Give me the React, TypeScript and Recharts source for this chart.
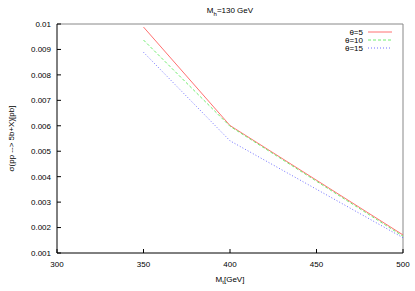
import React from "react";
import { LineChart, Line, XAxis, YAxis, ReferenceLine } from "recharts";

const masses = [350, 400, 500];
const theta5 = [0.00988, 0.00601, 0.00171];
const theta10 = [0.00937, 0.00598, 0.00166];
const theta15 = [0.00889, 0.00541, 0.0016];
const seriesNames = ["θ=5", "θ=10", "θ=15"];
const seriesColors = ["#ff7070", "#70ee70", "#7070ff"];
const seriesDash = ["", "3 2", "1 2"];
const xTicks = [300, 350, 400, 450, 500];
const yTicks = [0.001, 0.002, 0.003, 0.004, 0.005, 0.006, 0.007, 0.008, 0.009, 0.01];

const data = masses.map((m, i) => ({ m, s5: theta5[i], s10: theta10[i], s15: theta15[i] }));
const keys = ["s5", "s10", "s15"];

const font = "'Liberation Sans', Arial, sans-serif";

const LegendBox = () => (
  <div style={{ position: "absolute", top: 28, right: 20, fontFamily: font, fontSize: 8, color: "#000" }}>
    {seriesNames.map((n, i) => (
      <div key={n} style={{ display: "flex", alignItems: "center", justifyContent: "flex-end", height: 8 }}>
        <span>{n}</span>
        <svg width={28} height={8} style={{ marginLeft: 4 }}>
          <line x1={1} y1={4} x2={25} y2={4} stroke={seriesColors[i]} strokeWidth={1} strokeDasharray={seriesDash[i]} />
        </svg>
      </div>
    ))}
  </div>
);

const fmtY = (v: number) => String(Number(v.toFixed(3)));

export default function App() {
  return (
    <div style={{ position: "absolute", left: 0, top: 0, width: 415, height: 291, background: "#fff" }}>
      <div style={{ position: "absolute", left: 0, width: 460, top: 6, textAlign: "center", fontFamily: font, fontSize: 8 }}>
        M<sub style={{ fontSize: 6 }}>h</sub>=130 GeV
      </div>
      <LineChart width={415} height={291} data={data} margin={{ top: 24, right: 12, bottom: 8, left: 7 }}>
        <XAxis
          dataKey="m"
          type="number"
          domain={[300, 500]}
          ticks={xTicks}
          tickSize={-4}
          tickMargin={12}
          axisLine={{ stroke: "#000" }}
          tickLine={{ stroke: "#000" }}
          tick={{ fontSize: 8, fill: "#000", fontFamily: font }}
          height={30}
          label={(props: any) => {
            const vb = props.viewBox;
            return (
              <text x={vb.x + vb.width / 2} y={vb.y + 29} textAnchor="middle" fontSize={8} fontFamily={font} fill="#000">
                M<tspan fontSize={6} dy={2}>t</tspan>
                <tspan dy={-2}>[GeV]</tspan>
              </text>
            );
          }}
        />
        <YAxis
          type="number"
          domain={[0.001, 0.01]}
          ticks={yTicks}
          tickFormatter={fmtY}
          tickSize={-4}
          tickMargin={10}
          width={50}
          axisLine={{ stroke: "#000" }}
          tickLine={{ stroke: "#000" }}
          tick={{ fontSize: 8, fill: "#000", fontFamily: font }}
          label={(props: any) => {
            const vb = props.viewBox;
            const cx = 12;
            const cy = vb.y + vb.height / 2;
            return (
              <text x={cx} y={cy} transform={`rotate(-90 ${cx} ${cy})`} textAnchor="middle" dominantBaseline="middle" fontSize={8} fontFamily={font} fill="#000">
                σ(pp --&gt; 5b+X)[pb]
              </text>
            );
          }}
        />
        <ReferenceLine y={0.01} stroke="#888" strokeWidth={1} />
        <ReferenceLine x={500} stroke="#888" strokeWidth={1} />
        {keys.map((k, i) => (
          <Line
            key={k}
            dataKey={k}
            name={seriesNames[i]}
            type="linear"
            stroke={seriesColors[i]}
            strokeWidth={1}
            strokeDasharray={seriesDash[i]}
            dot={false}
            activeDot={false}
            isAnimationActive={false}
          />
        ))}
      </LineChart>
      <LegendBox />
    </div>
  );
}
